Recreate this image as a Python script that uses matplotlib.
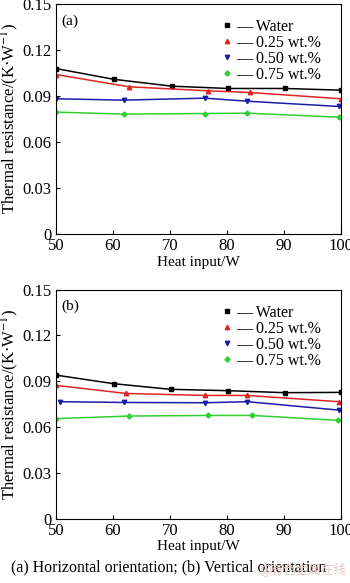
import matplotlib
matplotlib.use("Agg")
import matplotlib.pyplot as plt

plt.rcParams['font.family'] = ['Liberation Serif', 'DejaVu Serif']
plt.rcParams['mathtext.fontset'] = 'stix'

labels = ['Water', '0.25 wt.%', '0.50 wt.%', '0.75 wt.%']
colors = ['black', '#e02424', '#1c1ca8', '#2fd02f']
markers = ['s', '^', 'v', 'D']

# (a) horizontal orientation
x_a = [
    [50, 60.1, 70.3, 80.2, 90.2, 100],
    [50, 62.8, 76.6, 84.0, 100],
    [50, 61.9, 76.1, 83.6, 99.6],
    [50, 61.9, 76.1, 83.6, 99.6],
]
y_a = [
    [0.1078, 0.1008, 0.0963, 0.0948, 0.0948, 0.0937],
    [0.1039, 0.0959, 0.0933, 0.0922, 0.0881],
    [0.0881, 0.0872, 0.0885, 0.0865, 0.0831],
    [0.0794, 0.0781, 0.0785, 0.0787, 0.0761],
]

# (b) vertical orientation
x_b = [
    [50, 60.1, 70.1, 80.2, 90.2, 100],
    [50, 62.3, 76.1, 83.6, 99.6],
    [50.7, 61.9, 76.1, 83.6, 99.6],
    [50, 62.8, 76.7, 84.4, 99.5],
]
y_b = [
    [0.0940, 0.0884, 0.0847, 0.0838, 0.0825, 0.0827],
    [0.0873, 0.0820, 0.0807, 0.0807, 0.0766],
    [0.0766, 0.0761, 0.0759, 0.0766, 0.0711],
    [0.0655, 0.0672, 0.0676, 0.0676, 0.0644],
]

x_ticks = [50, 60, 70, 80, 90, 100]
y_ticks = [0, 0.03, 0.06, 0.09, 0.12, 0.15]
y_ticklabels = ['0', '0.03', '0.06', '0.09', '0.12', '0.15']

fig = plt.figure(figsize=(3.5, 5.83), dpi=100)
ax_a = fig.add_axes([0.16, 0.5986, 0.814, 0.395])
ax_b = fig.add_axes([0.16, 0.1103, 0.814, 0.393])


def draw(ax, xs, ys, tag):
    for x, y, c, m, lab in zip(xs, ys, colors, markers, labels):
        ax.plot(x, y, color=c, lw=1.1)
        ax.plot(x, y, ls='none', marker=m, color=c,
                ms=3.2 if m != 'D' else 2.6, label='— ' + lab)
    ax.set_xlim(50, 100)
    ax.set_ylim(0, 0.15)
    ax.set_xticks(x_ticks)
    ax.set_yticks(y_ticks)
    ax.set_yticklabels(y_ticklabels)
    ax.tick_params(direction='in', labelsize=12, length=3, pad=3)
    ax.set_xlabel('Heat input/W', fontsize=11, labelpad=1)
    ax.set_ylabel('Thermal resistance/(K·W$^{-1}$)', fontsize=12, labelpad=1)
    ax.text(0.02, 0.955, tag, transform=ax.transAxes, fontsize=11,
            va='top', ha='left')
    ax.legend(loc='upper right', frameon=False, fontsize=11.5,
              handlelength=0.5, handletextpad=0.3, labelspacing=0.0,
              borderaxespad=0.4, bbox_to_anchor=(0.975, 0.99))


draw(ax_a, x_a, y_a, '(a)')
draw(ax_b, x_b, y_b, '(b)')

fig.text(0.483, 0.026, '(a) Horizontal orientation; (b) Vertical orientation',
         ha='center', va='center', fontsize=11.4)
fig.text(0.99, 0.012, '@有色金属在线', ha='right', va='bottom', fontsize=9,
         color='#e6c8c8', family=['Noto Sans CJK SC', 'DejaVu Sans'])

fig.savefig('out.png', dpi=100)
